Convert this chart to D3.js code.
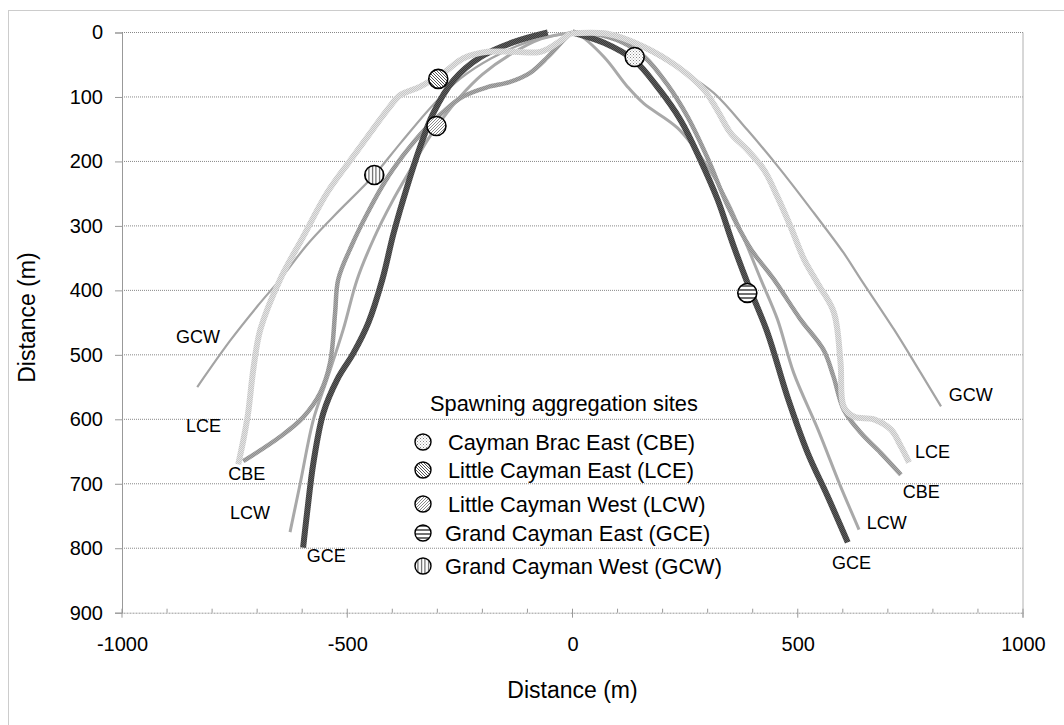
<!DOCTYPE html>
<html><head><meta charset="utf-8">
<script src="https://cdn.jsdelivr.net/npm/d3@7"></script>
<style>body{margin:0;background:#fff}svg{display:block;font-family:"Liberation Sans",Arial,sans-serif}</style>
</head><body><svg id="c" width="1064" height="725"></svg>
<script>
// ---- data: [horizontal distance (m), distance down (m)] ----
const xTicks = [-1000, -500, 0, 500, 1000];
const yTicks = [0, 100, 200, 300, 400, 500, 600, 700, 800, 900];

const gcwLeft  = [[-833,550],[-760,478],[-700,425],[-649,383],[-590,330],[-530,285],[-440,221],[-380,170],[-309,112],[-250,72],[-180,40],[-100,15],[0,0]];
const gcwRight = [[0,0],[80,6],[160,26],[240,58],[314,94],[388,151],[462,213],[536,280],[602,342],[640,383],[714,461],[773,528],[818,580]];
const lcwLeft  = [[-627,775],[-604,698],[-575,600],[-545,538],[-509,461],[-478,383],[-440,318],[-400,262],[-360,213],[-322,167],[-290,135],[-250,100],[-200,65],[-140,35],[-70,10],[0,0]];
const lcwRight = [[0,0],[11,2],[70,38],[122,84],[158,110],[233,148],[292,200],[344,262],[388,332],[418,383],[455,445],[491,528],[545,616],[595,704],[636,771]];
const cbeLeft  = [[-731,665],[-649,627],[-598,597],[-560,559],[-538,512],[-527,435],[-520,383],[-490,330],[-455,280],[-415,230],[-375,190],[-330,152],[-290,125],[-245,100],[-190,85],[-140,77],[-95,63],[-55,38],[-20,12],[-3,0]];
const cbeRight = [[3,0],[47,2],[110,15],[160,38],[210,80],[255,130],[300,195],[344,268],[395,335],[447,383],[506,445],[557,492],[579,533],[602,585],[640,621],[684,652],[729,686]];
const gceLeft  = [[-598,799],[-589,744],[-575,667],[-553,590],[-522,538],[-486,497],[-453,450],[-422,383],[-397,311],[-367,239],[-338,177],[-309,125],[-264,74],[-204,38],[-131,15],[-55,0]];
const gceRight = [[0,0],[70,16],[137,43],[188,84],[240,136],[284,198],[322,259],[358,332],[392,395],[433,466],[477,565],[522,652],[566,719],[611,791]];
const lceLeft  = [[-742,670],[-730,630],[-720,590],[-708,520],[-693,461],[-649,383],[-598,317],[-545,249],[-493,198],[-449,156],[-411,120],[-382,97],[-338,84],[-287,63],[-242,40],[-189,30],[-131,30],[-71,30],[-33,16],[-4,1]];
const lceRight = [[-4,1],[3,1],[77,2],[158,22],[233,53],[292,89],[321,120],[351,156],[388,182],[425,213],[455,255],[484,301],[514,352],[545,390],[580,434],[595,512],[602,580],[625,596],[669,600],[707,616],[729,642],[747,667]];

const siteCodes  = ["CBE", "LCE", "LCW", "GCE", "GCW"];
const siteNames  = ["Cayman Brac East (CBE)", "Little Cayman East (LCE)", "Little Cayman West (LCW)", "Grand Cayman East (GCE)", "Grand Cayman West (GCW)"];
const siteX      = [138, -298, -302, 388, -440];
const siteY      = [38, 72, 145, 404, 221];

const labelCodes = ["GCW","LCE","CBE","LCW","GCE","GCW","LCE","CBE","LCW","GCE"];
const labelX     = [-880,-858,-764,-760,-590,835,760,733,653,576];
const labelY     = [472,610,685,745,812,562,650,712,760,822];

// ---- chart ----
const svg = d3.select("#c");
const x = d3.scaleLinear().domain([-1000, 1000]).range([122, 1023]);
const y = d3.scaleLinear().domain([0, 900]).range([32.5, 612.7]);

const defs = svg.append("defs");
function checker(id, a, b) {
  const p = defs.append("pattern").attr("id", id).attr("patternUnits", "userSpaceOnUse").attr("width", 2).attr("height", 2);
  p.append("rect").attr("width", 2).attr("height", 2).attr("fill", a);
  p.append("rect").attr("width", 1).attr("height", 1).attr("fill", b);
  p.append("rect").attr("x", 1).attr("y", 1).attr("width", 1).attr("height", 1).attr("fill", b);
}
checker("tGCE", "#3c3c3c", "#5e5e5e");
checker("tLCE", "#c6c6c6", "#e4e4e4");
checker("tCBE", "#8e8e8e", "#ababab");

function hatch(id, d, color, size, w) {
  const p = defs.append("pattern").attr("id", id).attr("patternUnits", "userSpaceOnUse").attr("width", size).attr("height", size);
  p.append("rect").attr("width", size).attr("height", size).attr("fill", "#fff");
  p.append("path").attr("d", d).attr("stroke", color).attr("stroke-width", w).attr("fill", "none");
}
{
  const p = defs.append("pattern").attr("id", "mCBE").attr("patternUnits", "userSpaceOnUse").attr("width", 3).attr("height", 3);
  p.append("rect").attr("width", 3).attr("height", 3).attr("fill", "#fff");
  p.append("rect").attr("width", 1).attr("height", 1).attr("fill", "#888");
  p.append("rect").attr("x", 1.5).attr("y", 1.5).attr("width", 1).attr("height", 1).attr("fill", "#aaa");
}
hatch("mLCE", "M-1,-1L4,4M-1,2L1,4M2,-1L4,1", "#555", 3, 1);
hatch("mLCW", "M-1,4L4,-1M-1,1L1,-1M2,4L4,2", "#888", 3, 1);
hatch("mGCE", "M0,2L4,2", "#222", 4, 1.3);
hatch("mGCW", "M1.5,0L1.5,3.5", "#444", 3.5, 1);

// outer frame
svg.append("rect").attr("x", 8.5).attr("y", 10.5).attr("width", 1100).attr("height", 800)
  .attr("fill", "none").attr("stroke", "#999").attr("stroke-dasharray", "1,1");

// gridlines
svg.append("g").selectAll("line").data(yTicks.slice(0, -1)).join("line")
  .attr("x1", x(-1000)).attr("x2", x(1000)).attr("y1", d => y(d)).attr("y2", d => y(d))
  .attr("stroke", "#888").attr("stroke-dasharray", "1,1");

// right edge
svg.append("line").attr("x1", x(1000)).attr("x2", x(1000)).attr("y1", y(0)).attr("y2", y(900) + 5).attr("stroke", "#b0b0b0");

// y axis
const yAxis = d3.axisLeft(y).tickValues(yTicks).tickSize(7).tickPadding(12).tickFormat(d => String(d));
const gy = svg.append("g").attr("transform", `translate(${x(-1000)},0)`).call(yAxis);
gy.select(".domain").attr("stroke", "#999");
gy.selectAll(".tick line").attr("stroke", "#999");
gy.selectAll("text").attr("font-size", 20).attr("fill", "#000").attr("font-family", "Liberation Sans, Arial, sans-serif");

// x axis
const xMinor = d3.range(-1000, 1001, 100);
svg.append("g").selectAll("line").data(xMinor).join("line")
  .attr("x1", d => x(d)).attr("x2", d => x(d)).attr("y1", y(900) - 4).attr("y2", d => d % 500 === 0 ? y(900) + 5 : y(900))
  .attr("stroke", "#999");
const xAxis = d3.axisBottom(x).tickValues(xTicks).tickSize(0).tickPadding(24).tickFormat(d => String(d));
const gx = svg.append("g").attr("transform", `translate(0,${y(900)})`).call(xAxis);
gx.select(".domain").attr("stroke", "#999").attr("stroke-dasharray", "1,0.5");
gx.selectAll("text").attr("font-size", 20).attr("fill", "#000").attr("font-family", "Liberation Sans, Arial, sans-serif");

// axis titles
svg.append("text").attr("x", x(0)).attr("y", 698).attr("text-anchor", "middle").attr("font-size", 23).text("Distance (m)");
svg.append("text").attr("transform", `translate(35,${y(450) - 5}) rotate(-90)`).attr("text-anchor", "middle").attr("font-size", 23).text("Distance (m)");

// lines
const line = d3.line().x(d => x(d[0])).y(d => y(d[1])).curve(d3.curveCatmullRom.alpha(0.5));
const series = [
  {data: gcwLeft, stroke: "#a4a4a4", w: 2.2},
  {data: gcwRight, stroke: "#a4a4a4", w: 2.2},
  {data: lcwLeft, stroke: "#a9a9a9", w: 3},
  {data: lcwRight, stroke: "#a9a9a9", w: 3},
  {data: cbeLeft, stroke: "url(#tCBE)", w: 4.5},
  {data: cbeRight, stroke: "url(#tCBE)", w: 4.5},
  {data: gceLeft, stroke: "url(#tGCE)", w: 6},
  {data: gceRight, stroke: "url(#tGCE)", w: 6},
  {data: lceLeft, stroke: "url(#tLCE)", w: 6},
  {data: lceRight, stroke: "url(#tLCE)", w: 6}
];
svg.append("g").selectAll("path").data(series).join("path")
  .attr("d", d => line(d.data)).attr("fill", "none")
  .attr("stroke", d => d.stroke).attr("stroke-width", d => d.w)
  .attr("stroke-linecap", "butt").attr("stroke-linejoin", "round");

// site markers
svg.append("g").selectAll("circle").data(siteCodes).join("circle")
  .attr("cx", (d, i) => x(siteX[i])).attr("cy", (d, i) => y(siteY[i])).attr("r", 9.5)
  .attr("fill", d => `url(#m${d})`).attr("stroke", "#000").attr("stroke-width", 1.6);

// series labels
svg.append("g").selectAll("text").data(labelCodes).join("text")
  .attr("x", (d, i) => x(labelX[i])).attr("y", (d, i) => y(labelY[i])).attr("dy", "0.35em")
  .attr("font-size", 18).attr("fill", "#000").text(d => d);

// legend
const lg = svg.append("g");
lg.append("text").attr("x", 430).attr("y", 403).attr("dy", "0.35em").attr("font-size", 21.8).text("Spawning aggregation sites");
const rowY = [442, 470, 504, 533, 566];
const rowTx = [448, 448, 448, 445, 445];
siteCodes.forEach((c, i) => {
  lg.append("circle").attr("cx", 423).attr("cy", rowY[i]).attr("r", 8)
    .attr("fill", `url(#m${c})`).attr("stroke", "#000").attr("stroke-width", 1.4);
  lg.append("text").attr("x", rowTx[i]).attr("y", rowY[i]).attr("dy", "0.35em").attr("font-size", 21.8).text(siteNames[i]);
});
</script></body></html>
